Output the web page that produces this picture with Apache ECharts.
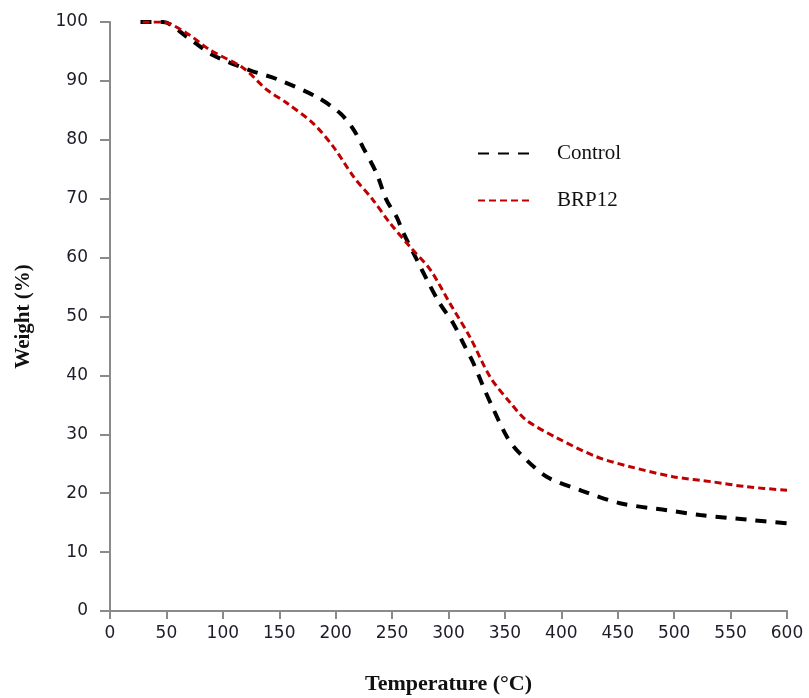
<!DOCTYPE html>
<html>
<head>
<meta charset="utf-8">
<script src="https://cdn.jsdelivr.net/npm/echarts@6/dist/echarts.min.js"></script>
<style>html,body{margin:0;padding:0;background:#fff}#c{width:809px;height:698px}</style>
</head>
<body>
<div id="c"></div>
<script>
const xTicks = [0, 50, 100, 150, 200, 250, 300, 350, 400, 450, 500, 550, 600];
const yTicks = [0, 10, 20, 30, 40, 50, 60, 70, 80, 90, 100];
const controlTemp = [27, 47, 68, 91, 124, 148, 183, 204, 216, 224, 236, 245, 254, 260, 272, 281, 292, 304, 313, 322, 331, 339, 352, 363, 387, 417, 452, 494, 523, 565, 600];
const controlWeight = [100, 100, 97.5, 94.4, 91.8, 90.3, 87.3, 84.5, 81.7, 78.8, 74.4, 69.8, 66.9, 64.2, 59.6, 56.2, 52.3, 48.9, 45.5, 42.1, 38.0, 34.6, 29.5, 26.8, 22.8, 20.5, 18.3, 17.1, 16.3, 15.5, 14.9];
const brpTemp = [29, 46, 68, 89, 118, 139, 157, 180, 198, 216, 233, 248, 266, 284, 301, 319, 337, 355, 369, 396, 431, 461, 499, 535, 564, 600];
const brpWeight = [100, 100, 98.1, 95.2, 92.2, 88.5, 86.2, 82.8, 78.8, 73.7, 69.8, 65.9, 61.8, 57.9, 52.3, 46.5, 39.7, 35.3, 32.4, 29.4, 26.2, 24.5, 22.8, 21.9, 21.1, 20.5];

const pairs = (xs, ys) => xs.map((x, i) => [x, ys[i]]);
const chart = echarts.init(document.getElementById('c'));
const labelStyle = { color: '#1c1c28', fontFamily: 'DejaVu Sans', fontSize: 17 };
chart.setOption({
  animation: false,
  grid: { left: 110, right: 22, top: 22, bottom: 87, outerBoundsMode: 'none', containLabel: false },
  legend: {
    orient: 'vertical', left: 472, top: 138, itemGap: 26,
    itemWidth: 52, itemHeight: 14,
    itemStyle: { opacity: 0 },
    textStyle: { fontFamily: 'Liberation Serif', fontSize: 21, color: '#111', padding: [0, 0, 0, 22] },
    data: ['Control', 'BRP12']
  },
  xAxis: {
    type: 'value', min: xTicks[0], max: xTicks[xTicks.length - 1], interval: 50,
    name: 'Temperature (°C)', nameLocation: 'middle', nameGap: 62,
    nameTextStyle: { fontFamily: 'Liberation Serif', fontWeight: 'bold', fontSize: 22, color: '#111' },
    axisLine: { lineStyle: { color: '#8a8a8a', width: 2 } },
    axisTick: { show: true, length: 8, lineStyle: { color: '#8a8a8a', width: 2 } },
    axisLabel: Object.assign({ margin: 14 }, labelStyle),
    splitLine: { show: false }
  },
  yAxis: {
    type: 'value', min: yTicks[0], max: yTicks[yTicks.length - 1], interval: 10,
    name: 'Weight (%)', nameLocation: 'middle', nameGap: 76,
    nameTextStyle: { fontFamily: 'Liberation Serif', fontWeight: 'bold', fontSize: 21, color: '#111' },
    axisLine: { show: true, lineStyle: { color: '#8a8a8a', width: 2 } },
    axisTick: { show: true, length: 10, lineStyle: { color: '#8a8a8a', width: 2 } },
    axisLabel: Object.assign({ margin: 22 }, labelStyle),
    splitLine: { show: false }
  },
  series: [
    {
      name: 'Control', type: 'line', smooth: 0.3, symbol: 'none',
      data: pairs(controlTemp, controlWeight),
      lineStyle: { color: '#000', width: 4, type: [11, 9] },
      itemStyle: { color: '#000' }
    },
    {
      name: 'BRP12', type: 'line', smooth: 0.3, symbol: 'none',
      data: pairs(brpTemp, brpWeight),
      lineStyle: { color: '#c00000', width: 3, type: [7, 4] },
      itemStyle: { color: '#c00000' }
    }
  ]
});
</script>
</body>
</html>
